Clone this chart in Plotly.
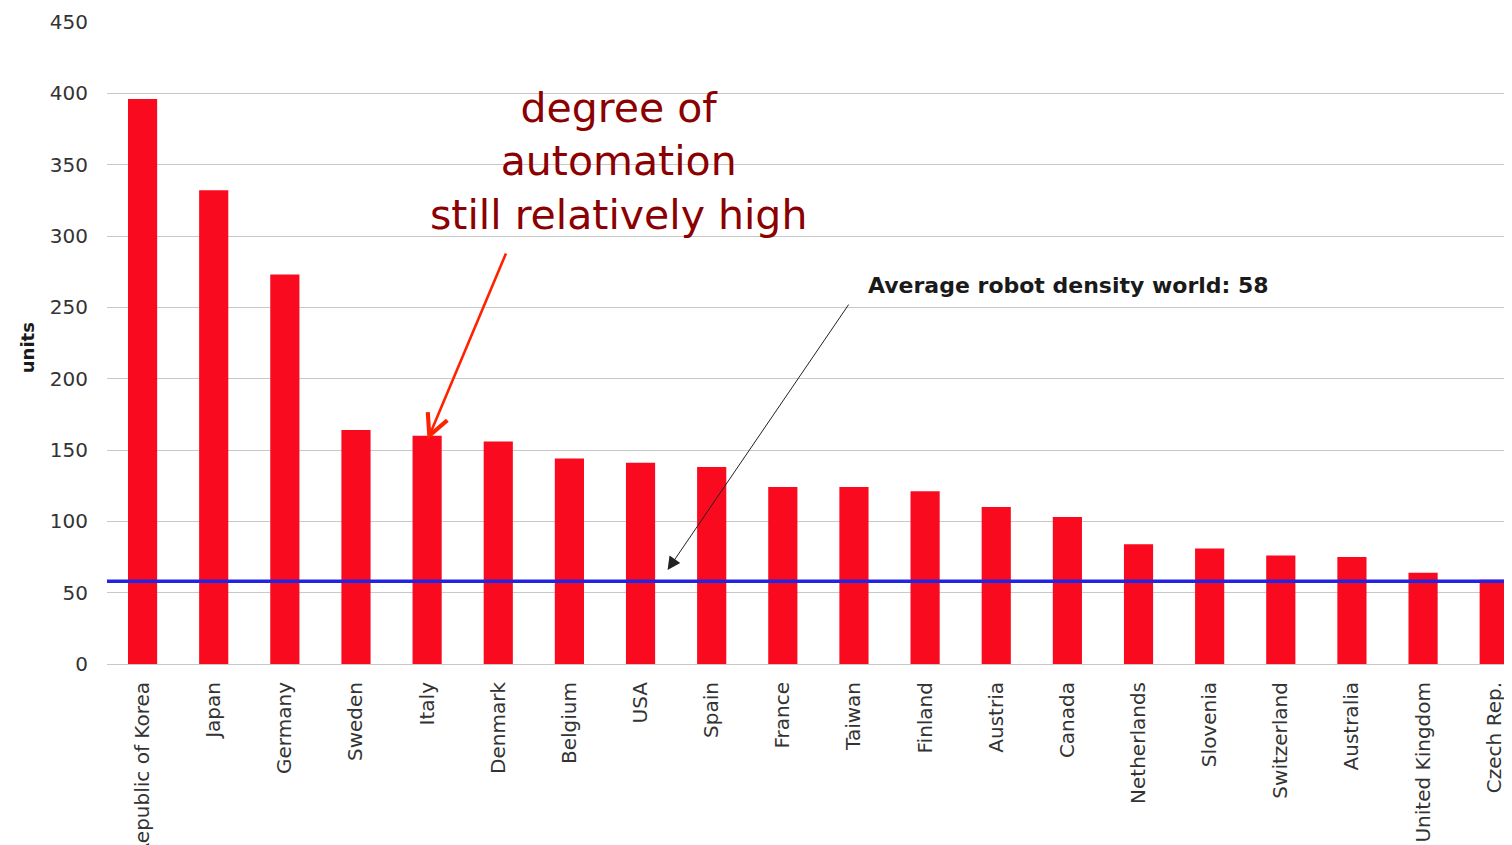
import plotly.graph_objects as go

countries = ["Republic of Korea", "Japan", "Germany", "Sweden", "Italy", "Denmark",
             "Belgium", "USA", "Spain", "France", "Taiwan", "Finland", "Austria",
             "Canada", "Netherlands", "Slovenia", "Switzerland", "Australia",
             "United Kingdom", "Czech Rep."]
robot_density = [396, 332, 273, 164, 160, 156, 144, 141, 138, 124, 124, 121, 110,
                 103, 84, 81, 76, 75, 64, 59]
world_average = 58
y_ticks = [0, 50, 100, 150, 200, 250, 300, 350, 400, 450]

fig = go.Figure()
fig.add_trace(go.Bar(
    x=list(range(len(countries))),
    y=robot_density,
    marker=dict(color="#fa0a1e", line=dict(width=0)),
    width=0.41,
    hoverinfo="skip",
))

fig.add_shape(type="line", xref="paper", x0=0, x1=1, yref="y",
              y0=world_average, y1=world_average,
              line=dict(color="#2424e0", width=3.5), layer="above")

fig.add_annotation(
    x=6.69, y=352, xref="x", yref="y",
    text="degree of<br>automation<br>still relatively high",
    showarrow=False, xanchor="center", yanchor="middle",
    font=dict(family="DejaVu Sans", size=41, color="#8b0000"),
)
fig.add_annotation(
    x=4.006, y=157, xref="x", yref="y",
    ax=5.117, ay=288.8, axref="x", ayref="y",
    text="", showarrow=True, arrowhead=5, arrowsize=1.6,
    arrowwidth=2.6, arrowcolor="#ff2200", standoff=0,
)
fig.add_annotation(
    x=10.17, y=265, xref="x", yref="y",
    text="Average robot density world: " + str(world_average),
    showarrow=False, xanchor="left", yanchor="middle",
    font=dict(family="DejaVu Sans", size=22, color="#1a1a1a", weight="bold"),
)
fig.add_annotation(
    x=7.38, y=65.9, xref="x", yref="y",
    ax=9.94, ay=253, axref="x", ayref="y",
    text="", showarrow=True, arrowhead=2, arrowsize=2.6,
    arrowwidth=1, arrowcolor="#222222", standoff=0,
)
fig.add_annotation(
    x=-0.057, y=222, xref="paper", yref="y",
    text="<b>units</b>", textangle=-90, showarrow=False,
    xanchor="center", yanchor="middle",
    font=dict(family="DejaVu Sans", size=18, color="#1a1a1a"),
)

fig.update_layout(
    width=1504, height=837,
    margin=dict(l=99, r=0, t=14, b=181, autoexpand=False),
    plot_bgcolor="white", paper_bgcolor="white",
    showlegend=False,
    bargap=0.59,
    xaxis=dict(
        range=[-0.5, 19.25],
        tickmode="array",
        tickvals=list(range(len(countries))),
        ticktext=countries,
        tickangle=-90,
        tickfont=dict(family="DejaVu Sans", size=20, color="#333333"),
        showgrid=False, zeroline=False, showline=False,
        ticks="outside", ticklen=9, tickcolor="rgba(0,0,0,0)",
        automargin=False,
    ),
    yaxis=dict(
        range=[0, 450],
        tickmode="array",
        tickvals=y_ticks,
        tickfont=dict(family="DejaVu Sans", size=20, color="#333333"),
        showgrid=True, gridcolor="#c8c8c8", gridwidth=1.3,
        zeroline=True, zerolinecolor="#c8c8c8", zerolinewidth=1.3,
        showline=False,
        ticks="outside", ticklen=14, tickcolor="rgba(0,0,0,0)",
        automargin=False,
    ),
)

fig.write_html("out.html")
